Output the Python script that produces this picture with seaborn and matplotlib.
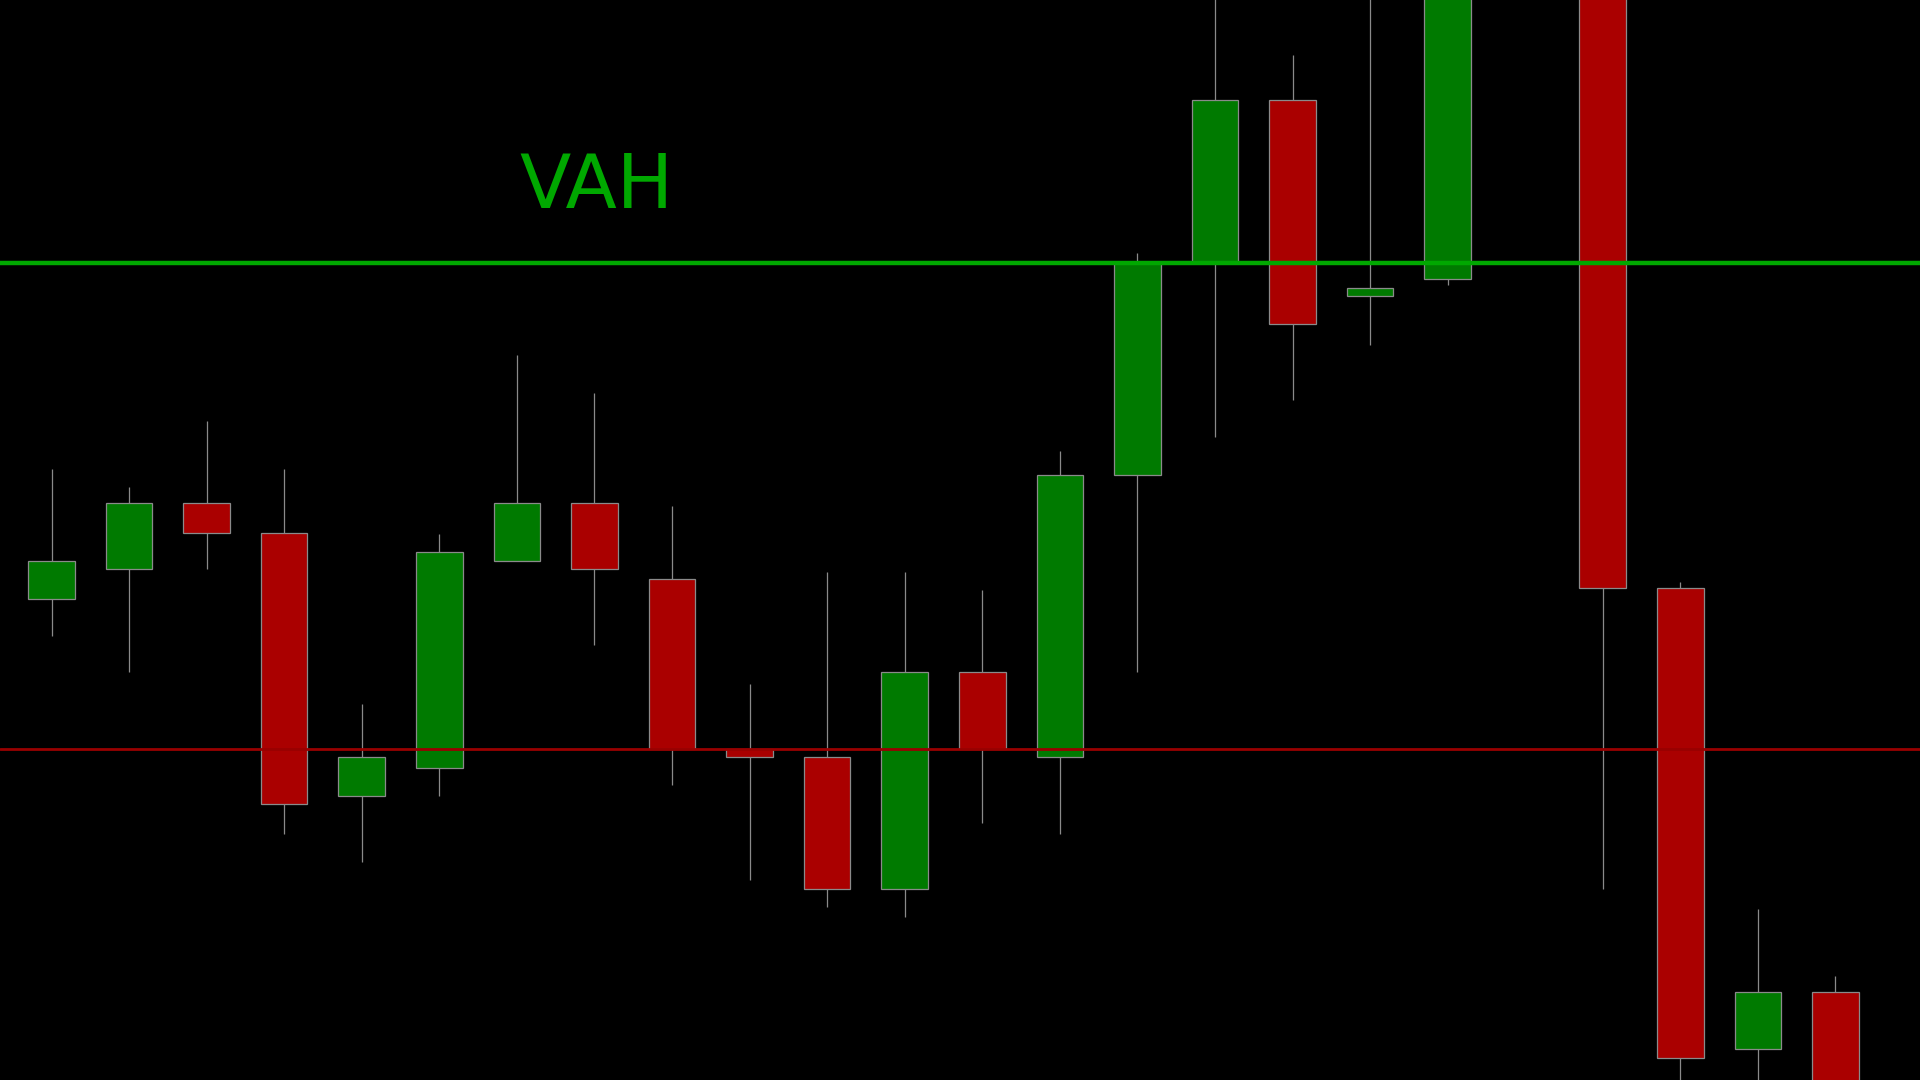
import numpy as np
import pandas as pd
import matplotlib
matplotlib.use("Agg")
import matplotlib.pyplot as plt
import seaborn as sns

# candle data (price units); index 19 sits above the visible range
opens = [393, 417, 471, 447, 232, 255, 424, 471, 409, 270, 264, 156, 333, 264,
         494, 667, 800, 640, 654, 960, 960, 402, 25, 72]
closes = [424, 471, 447, 225, 264, 431, 471, 417, 270, 264, 156, 333, 270, 494,
          667, 800, 617, 647, 950, 1000, 402, 18, 72, -20]
highs = [499, 484, 538, 499, 307, 446, 592, 561, 469, 323, 415, 415, 400, 514,
         675, 902, 837, 920, 960, 1020, 980, 407, 140, 85]
lows = [363, 333, 417, 201, 178, 232, 424, 355, 241, 163, 141, 133, 210, 201,
        333, 525, 555, 600, 649, 940, 156, -15, -10, -40]

vah_level = 667
poc_level = 270
vah_label = "VAH"

df = pd.DataFrame({"open": opens, "close": closes, "high": highs, "low": lows})
df["idx"] = np.arange(len(df))
df["up"] = df["close"] >= df["open"]

sns.set_theme(style="dark", rc={"axes.facecolor": "black", "figure.facecolor": "black"})
plt.rcParams["font.family"] = ["DejaVu Sans"]

fig = plt.figure(figsize=(19.2, 10.8), dpi=100)
ax = fig.add_axes([0, 0, 1, 1])
ax.set_facecolor("black")

green = "#007a00"
red = "#aa0000"
colors = [green if u else red for u in df["up"]]

# wicks
ax.vlines(df["idx"], df["low"], df["high"], color="#8a8a8a", linewidth=0.9, zorder=1)

# bodies
bottoms = df[["open", "close"]].min(axis=1)
heights = (df["close"] - df["open"]).abs()
ax.bar(df["idx"], heights, bottom=bottoms, width=0.6, color=colors,
       edgecolor="#8a8a8a", linewidth=0.9, zorder=2)

# value area levels
ax.axhline(vah_level, color="#00a800", linewidth=3.2, zorder=3)
ax.axhline(poc_level, color="#990000", linewidth=2.0, zorder=3)
ax.text(7.03, 729, vah_label, color="#00a800", fontsize=54,
        ha="center", va="center", zorder=4)

ax.set_xlim(-0.664, 24.09)
ax.set_ylim(0, 882)
ax.axis("off")

fig.savefig("out.png", dpi=100, facecolor="black")
